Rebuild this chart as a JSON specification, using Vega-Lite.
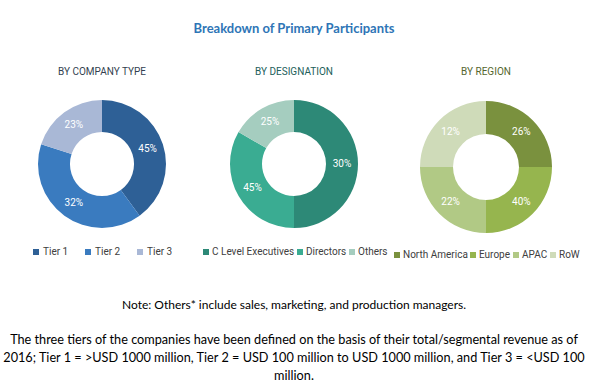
{
  "$schema": "https://vega.github.io/schema/vega-lite/v6.json",
  "background": "white",
  "padding": {"left": 2, "right": 12, "top": 23, "bottom": 5},
  "title": {
    "text": "Breakdown of Primary Participants",
    "font": "Lato",
    "fontSize": 13,
    "fontWeight": "bold",
    "color": "#2E75B6",
    "anchor": "middle",
    "offset": 31
  },
  "datasets": {
    "company": [
      {"segment": "Tier 1", "order": 1, "share": 40, "label": "45%"},
      {"segment": "Tier 2", "order": 2, "share": 40, "label": "32%"},
      {"segment": "Tier 3", "order": 3, "share": 20, "label": "23%"}
    ],
    "designation": [
      {"segment": "C Level Executives", "order": 1, "share": 50, "label": "30%"},
      {"segment": "Directors", "order": 2, "share": 33.3, "label": "45%"},
      {"segment": "Others", "order": 3, "share": 16.7, "label": "25%"}
    ],
    "region": [
      {"segment": "North America", "order": 1, "share": 25, "label": "26%"},
      {"segment": "Europe", "order": 2, "share": 25, "label": "40%"},
      {"segment": "APAC", "order": 3, "share": 25, "label": "22%"},
      {"segment": "RoW", "order": 4, "share": 25, "label": "12%"}
    ],
    "notes": [
      {"part": "note", "text": "Note: Others* include sales, marketing, and production managers."},
      {"part": "tiers", "text": "The three tiers of the companies have been defined on the basis of their total/segmental revenue as of\n2016; Tier 1 = >USD 1000 million, Tier 2 = USD 100 million to USD 1000 million, and Tier 3 = <USD 100\nmillion."}
    ]
  },
  "vconcat": [
    {
      "hconcat": [
        {
          "width": 192,
          "height": 140,
          "title": {"text": "BY COMPANY TYPE", "color": "#333F50"},
          "data": {"name": "company"},
          "encoding": {
            "theta": {"field": "share", "type": "quantitative", "stack": true},
            "order": {"field": "order", "type": "quantitative"}
          },
          "layer": [
            {
              "mark": {"type": "arc", "innerRadius": 32, "outerRadius": 64},
              "encoding": {
                "color": {
                  "field": "segment",
                  "type": "nominal",
                  "scale": {"domain": ["Tier 1", "Tier 2", "Tier 3"], "range": ["#2E6096", "#3A7BBF", "#A9B8D6"]},
                  "legend": {"title": null, "columnPadding": 14}
                }
              }
            },
            {
              "mark": {"type": "text", "radius": 48, "color": "white", "font": "Roboto", "fontSize": 10},
              "encoding": {"text": {"field": "label", "type": "nominal"}}
            }
          ]
        },
        {
          "width": 192,
          "height": 140,
          "title": {"text": "BY DESIGNATION", "color": "#22605A"},
          "data": {"name": "designation"},
          "encoding": {
            "theta": {"field": "share", "type": "quantitative", "stack": true},
            "order": {"field": "order", "type": "quantitative"}
          },
          "layer": [
            {
              "mark": {"type": "arc", "innerRadius": 32, "outerRadius": 64},
              "encoding": {
                "color": {
                  "field": "segment",
                  "type": "nominal",
                  "scale": {"domain": ["C Level Executives", "Directors", "Others"], "range": ["#2D8977", "#3AAC92", "#A5CDBF"]},
                  "legend": {"title": null, "columnPadding": 0, "labelOffset": 1}
                }
              }
            },
            {
              "mark": {"type": "text", "radius": 48, "color": "white", "font": "Roboto", "fontSize": 10},
              "encoding": {"text": {"field": "label", "type": "nominal"}}
            }
          ]
        },
        {
          "width": 192,
          "height": 146,
          "title": {"text": "BY REGION", "color": "#55662E"},
          "data": {"name": "region"},
          "encoding": {
            "theta": {"field": "share", "type": "quantitative", "stack": true},
            "order": {"field": "order", "type": "quantitative"}
          },
          "layer": [
            {
              "mark": {"type": "arc", "innerRadius": 33, "outerRadius": 66},
              "encoding": {
                "color": {
                  "field": "segment",
                  "type": "nominal",
                  "scale": {"domain": ["North America", "Europe", "APAC", "RoW"], "range": ["#7A913E", "#96B54E", "#B1C985", "#CFDBB9"]},
                  "legend": {"title": null, "columnPadding": 0, "labelOffset": 1, "offset": 10}
                }
              }
            },
            {
              "mark": {"type": "text", "radius": 50, "color": "white", "font": "Roboto", "fontSize": 10},
              "encoding": {"text": {"field": "label", "type": "nominal"}}
            }
          ]
        }
      ],
      "spacing": 0,
      "resolve": {"scale": {"color": "independent"}, "legend": {"color": "independent"}}
    },
    {
      "width": 576,
      "height": 34,
      "data": {"name": "notes"},
      "encoding": {
        "y": {"field": "part", "type": "nominal", "sort": ["note", "tiers"], "axis": null, "scale": {"type": "point", "padding": 0}},
        "text": {"field": "text", "type": "nominal"}
      },
      "layer": [
        {
          "transform": [{"filter": "datum.part === 'note'"}],
          "mark": {"type": "text", "font": "Lato", "fontSize": 12, "color": "black", "baseline": "top"}
        },
        {
          "transform": [{"filter": "datum.part === 'tiers'"}],
          "mark": {"type": "text", "font": "Lato", "fontSize": 12.7, "color": "black", "baseline": "top", "lineBreak": "\n", "lineHeight": 18}
        }
      ]
    }
  ],
  "spacing": 39,
  "config": {
    "view": {"stroke": null},
    "title": {"font": "Roboto", "fontSize": 10, "fontWeight": "normal", "offset": 17},
    "legend": {
      "orient": "bottom",
      "direction": "horizontal",
      "labelFont": "Roboto",
      "labelFontSize": 10,
      "labelColor": "#404040",
      "symbolType": "square",
      "symbolSize": 36,
      "symbolStrokeWidth": 0,
      "labelOffset": 2,
      "offset": 13,
      "layout": {"bottom": {"anchor": "middle"}}
    }
  }
}
